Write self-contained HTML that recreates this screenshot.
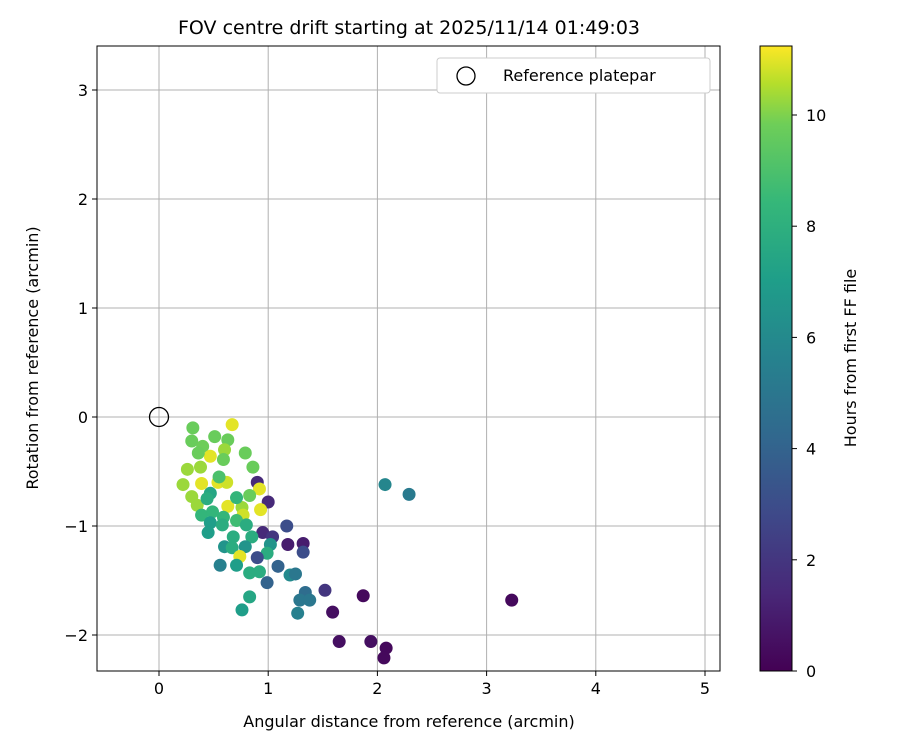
<!DOCTYPE html>
<html><head><meta charset="utf-8"><style>
body{margin:0;background:#fff;font-family:"Liberation Sans","DejaVu Sans",sans-serif}
</style></head><body>
<svg id="c" width="900" height="750" xmlns="http://www.w3.org/2000/svg" font-family="DejaVu Sans, Liberation Sans, sans-serif">
<defs><linearGradient id="vir" x1="0" y1="1" x2="0" y2="0">
<stop offset="0" stop-color="#440154"/><stop offset="0.125" stop-color="#482878"/><stop offset="0.25" stop-color="#3e4989"/><stop offset="0.375" stop-color="#31688e"/><stop offset="0.5" stop-color="#26828e"/><stop offset="0.625" stop-color="#1f9e89"/><stop offset="0.75" stop-color="#35b779"/><stop offset="0.875" stop-color="#6ece58"/><stop offset="0.94" stop-color="#b5de2b"/><stop offset="1" stop-color="#fde725"/></linearGradient></defs>
<text x="409" y="34" font-size="19" text-anchor="middle">FOV centre drift starting at 2025/11/14 01:49:03</text>
<g id="grid"></g><g id="pts"></g>
<rect x="97" y="46" width="623" height="625" fill="none" stroke="#000" stroke-width="1"/>
<g id="ax"></g>
<text x="409" y="727" font-size="16" text-anchor="middle">Angular distance from reference (arcmin)</text>
<text transform="translate(38,358) rotate(-90)" font-size="16" text-anchor="middle">Rotation from reference (arcmin)</text>
<g>
<rect x="437" y="58" width="273" height="35" rx="3" fill="#fff" stroke="#ccc"/>
<circle cx="466" cy="76" r="9" fill="none" stroke="#000" stroke-width="1.3"/>
<text x="503" y="81" font-size="16">Reference platepar</text></g>
<rect x="760" y="46" width="32" height="625" fill="url(#vir)" stroke="#000"/>
<g id="cb"></g>
<text transform="translate(856,358) rotate(-90)" font-size="16" text-anchor="middle">Hours from first FF file</text>
</svg>
<script>
const xs=[0.67,0.31,0.30,0.51,0.63,0.40,0.60,0.47,0.79,0.59,0.38,0.26,0.86,0.90,0.54,0.39,0.22,0.62,0.92,1.0,0.83,0.30,0.35,0.47,0.63,0.76,0.77,0.93,0.71,0.39,0.49,0.59,0.71,0.47,0.58,0.80,0.95,1.17,1.04,0.45,0.68,0.85,1.18,1.32,1.02,0.60,0.67,0.79,0.99,0.74,0.90,1.32,0.56,0.71,1.09,0.83,0.92,1.20,1.25,0.99,0.83,1.34,1.29,1.38,1.52,0.76,1.27,1.59,2.07,2.29,3.23,1.87,1.65,1.94,2.08,2.06,0.55,0.44,0.36];
const ys=[-0.07,-0.10,-0.22,-0.18,-0.21,-0.27,-0.30,-0.36,-0.33,-0.39,-0.46,-0.48,-0.46,-0.60,-0.60,-0.61,-0.62,-0.60,-0.66,-0.78,-0.72,-0.73,-0.81,-0.70,-0.82,-0.83,-0.90,-0.85,-0.74,-0.90,-0.87,-0.92,-0.95,-0.97,-0.99,-0.99,-1.06,-1.00,-1.10,-1.06,-1.10,-1.10,-1.17,-1.16,-1.17,-1.19,-1.20,-1.19,-1.25,-1.28,-1.29,-1.24,-1.36,-1.36,-1.37,-1.43,-1.42,-1.45,-1.44,-1.52,-1.65,-1.61,-1.68,-1.68,-1.59,-1.77,-1.80,-1.79,-0.62,-0.71,-1.68,-1.64,-2.06,-2.06,-2.12,-2.21,-0.55,-0.75,-0.33];
const hs=[11,9.7,9.7,9.7,9.7,9.8,10.3,11,9.7,9.7,10.3,10.3,9.7,1.5,11,11,10.3,10.8,11,1.5,9.7,10.3,10.3,7.5,11,10.3,10.8,11,8.3,8.3,8.3,8.3,8.7,7,7.8,7.8,1.5,3,2,7,7.8,7.8,1,1,6.5,6.5,7.8,6.5,7.8,11,3,3,5.5,7,4,7.8,7.8,6,5,4,7.5,4.5,5,5,2,7,5.5,0.5,5.8,5.2,0.3,0.3,0.5,0.5,0.3,0.3,9,7.8,9.7];
const xTicks=[0,1,2,3,4,5], yTicks=[-2,-1,0,1,2,3], cTicks=[0,2,4,6,8,10];
const X=v=>159+v*109.2, Y=v=>417-v*109, C=v=>671-v*55.6;
const stops=[[0,[68,1,84]],[.125,[72,40,120]],[.25,[62,73,137]],[.375,[49,104,142]],[.5,[38,130,142]],[.625,[31,158,137]],[.75,[53,183,121]],[.875,[110,206,88]],[.94,[181,222,43]],[1,[253,231,37]]];
function col(h){const t=Math.max(0,Math.min(1,h/11.24));let i=0;while(i<stops.length-2&&t>stops[i+1][0])i++;const [ta,a]=stops[i],[tb,b]=stops[i+1];const f=(t-ta)/(tb-ta);return `rgb(${a.map((v,k)=>Math.round(v+(b[k]-v)*f)).join(',')})`;}
const NS='http://www.w3.org/2000/svg';
function mk(p,tag,at){const e=document.createElementNS(NS,tag);for(const k in at)e.setAttribute(k,at[k]);document.getElementById(p).appendChild(e);return e;}
xTicks.forEach(t=>{let l=mk('grid','line',{x1:X(t),x2:X(t),y1:46,y2:671,stroke:'#b0b0b0','stroke-width':1});


mk('ax','line',{x1:X(t),x2:X(t),y1:671,y2:676,stroke:'#000'});
let tx=mk('ax','text',{x:X(t),y:694,'font-size':16,'text-anchor':'middle'});tx.textContent=t;

});
yTicks.forEach(t=>{let l=mk('grid','line',{x1:97,x2:720,y1:Y(t),y2:Y(t),stroke:'#b0b0b0','stroke-width':1});


mk('ax','line',{x1:92,x2:97,y1:Y(t),y2:Y(t),stroke:'#000'});
let tx=mk('ax','text',{x:88,y:Y(t)+6,'font-size':16,'text-anchor':'end'});tx.textContent=t<0?'\u2212'+(-t):t;

});
cTicks.forEach(t=>{mk('cb','line',{x1:792,x2:797,y1:C(t),y2:C(t),stroke:'#000'});
let tx=mk('cb','text',{x:806,y:C(t)+6,'font-size':16});tx.textContent=t;

});
xs.forEach((x,i)=>{let c=mk('pts','circle',{cx:X(x),cy:Y(ys[i]),r:6.5,fill:col(hs[i])});

});
let r=mk('pts','circle',{cx:X(0),cy:Y(0),r:9.5,fill:'none',stroke:'#000','stroke-width':1.3});


</script>
</body></html>
